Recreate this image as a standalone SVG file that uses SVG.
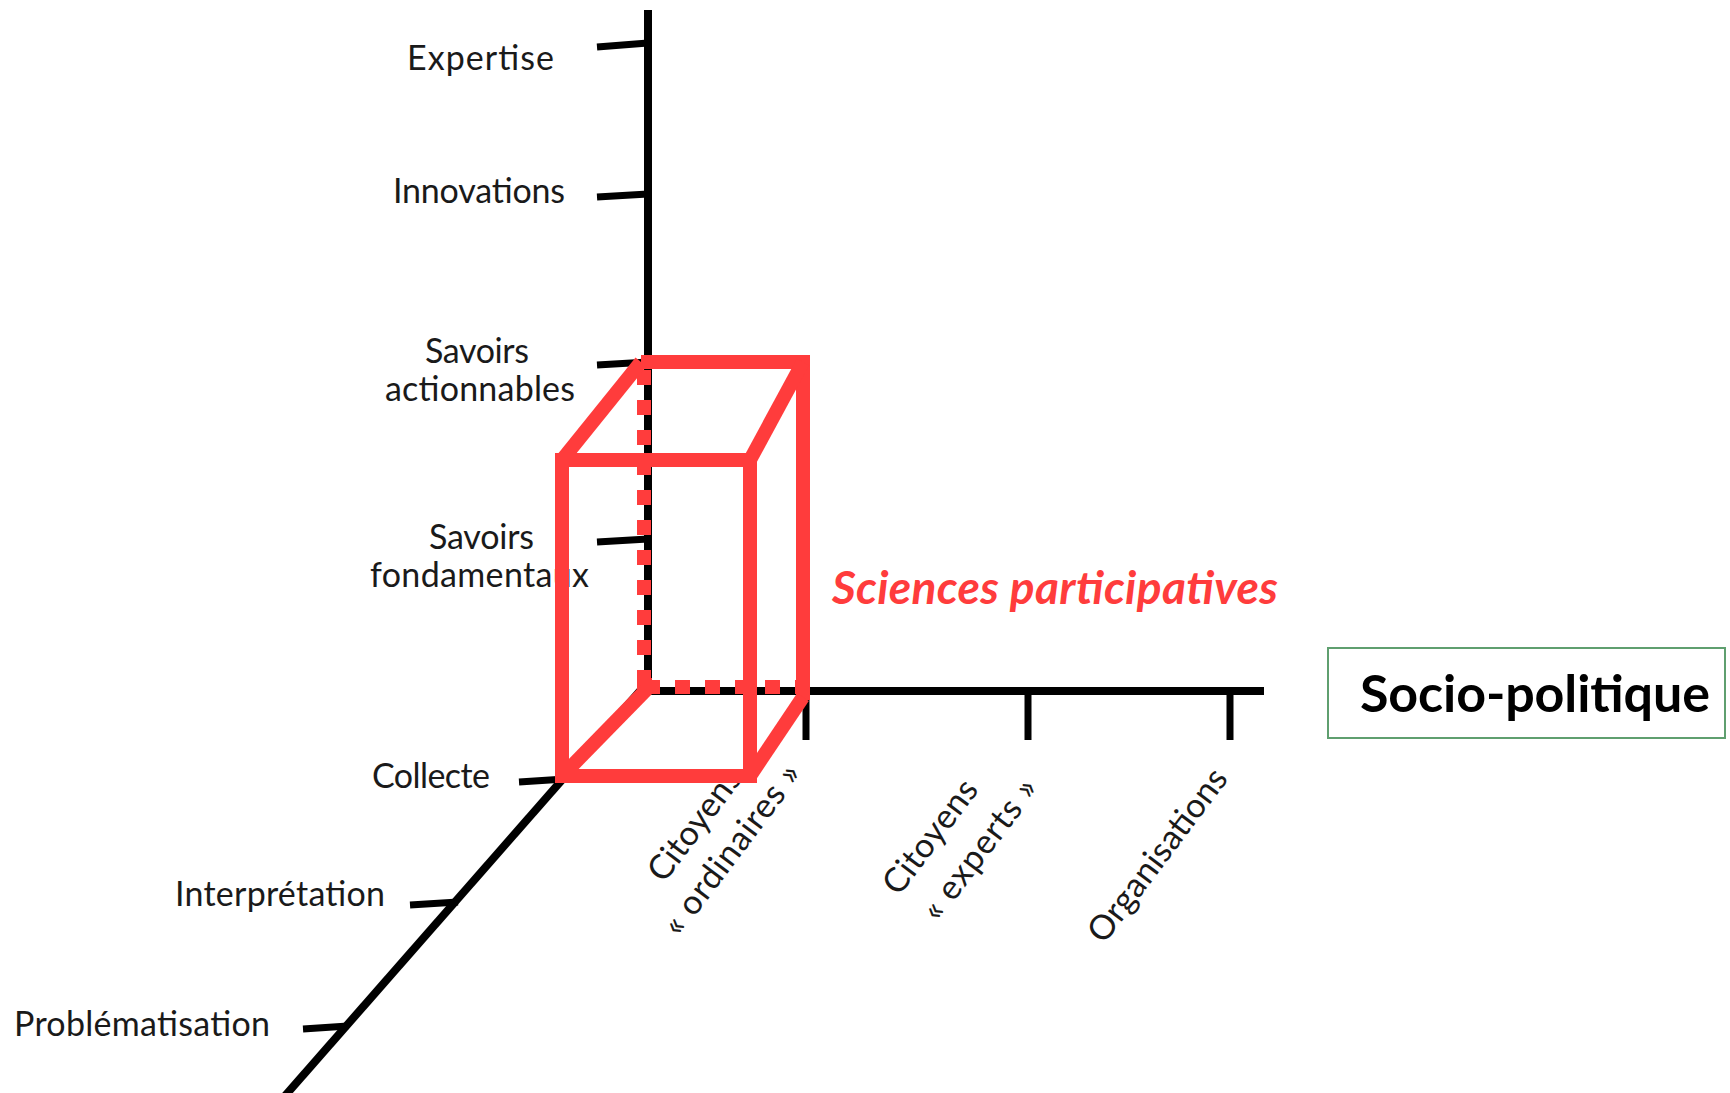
<svg xmlns="http://www.w3.org/2000/svg" width="1730" height="1093" viewBox="0 0 1730 1093">
<style>
.lbl{font-family:Lato,"Open Sans","Liberation Sans",sans-serif;font-size:34px;fill:#1a1a1a}
.axis{stroke:#000;stroke-width:8;fill:none}
.tick{stroke:#000;stroke-width:7;fill:none}
.red{stroke:#ff3c3c;stroke-width:14;fill:none;stroke-linejoin:miter}
.dot{stroke:#ff3c3c;stroke-width:14;fill:none;stroke-dasharray:15 15}
</style>
<rect width="1730" height="1093" fill="#fff"/>
<g id="connectors">
<path class="axis" d="M648 10 V695" stroke-width="9"/>
<path class="axis" d="M644 691 H1264"/>
<path class="axis" d="M640 691 L284 1097"/>
<path class="tick" d="M597 47 L648 43"/>
<path class="tick" d="M597 197 L648 194"/>
<path class="tick" d="M597 365 L648 362"/>
<path class="tick" d="M597 542 L648 539"/>
<path class="tick" d="M519 782 L565 779"/>
<path class="tick" d="M410 905 L458 902"/>
<path class="tick" d="M303 1029 L348 1026"/>
<path class="tick" d="M806 691 V740"/>
<path class="tick" d="M1028 691 V740"/>
<path class="tick" d="M1230 691 V740"/>
</g>
<g id="label-expertise"><text class="lbl" x="407" y="70" font-size="37" textLength="147" lengthAdjust="spacing">Expertise</text></g>
<g id="label-innovations"><text class="lbl" x="393" y="203" textLength="172" lengthAdjust="spacing">Innovations</text></g>
<g id="label-savoirs-actionnables"><text class="lbl" x="425" y="363" textLength="104" lengthAdjust="spacing">Savoirs</text><text class="lbl" x="385" y="401" textLength="190" lengthAdjust="spacing">actionnables</text></g>
<g id="label-savoirs-fondamentaux"><text class="lbl" x="429" y="549" textLength="105" lengthAdjust="spacing">Savoirs</text><text class="lbl" x="370" y="587" textLength="219" lengthAdjust="spacing">fondamentaux</text></g>
<g id="label-collecte"><text class="lbl" x="372" y="788" textLength="118" lengthAdjust="spacing">Collecte</text></g>
<g id="label-interpretation"><text class="lbl" x="175" y="906" textLength="210" lengthAdjust="spacing">Interprétation</text></g>
<g id="label-problematisation"><text class="lbl" x="14" y="1036" textLength="256" lengthAdjust="spacing">Problématisation</text></g>
<g id="label-citoyens-ordinaires"><text class="lbl" transform="translate(664 884) rotate(-53)" textLength="132" lengthAdjust="spacing">Citoyens</text><text class="lbl" transform="translate(679 938) rotate(-53)" textLength="205" lengthAdjust="spacing">« ordinaires »</text></g>
<g id="label-citoyens-experts"><text class="lbl" transform="translate(899 897) rotate(-53)" textLength="134" lengthAdjust="spacing">Citoyens</text><text class="lbl" transform="translate(938 923) rotate(-53)" textLength="168" lengthAdjust="spacing">« experts »</text></g>
<g id="label-organisations"><text class="lbl" transform="translate(1104 945) rotate(-53)" textLength="208" lengthAdjust="spacing">Organisations</text></g>
<g id="box-sciences-participatives">
<path class="dot" d="M644 685 V362"/>
<path class="dot" d="M645 687 H800"/>
<rect x="637" y="678" width="15" height="15" fill="#ff3c3c"/>
<path class="red" d="M641 362 H803 V700"/>
<path class="red" d="M562 460 L641 362"/>
<path class="red" d="M750 460 L803 362"/>
<path class="red" d="M562 776 L647 689"/>
<path class="red" d="M750 776 L803 697"/>
<rect class="red" x="562" y="460" width="188" height="316"/>
</g>
<g id="label-sciences-participatives"><text x="832" y="604" font-family="Lato,'Open Sans','Liberation Sans',sans-serif" font-size="46" font-weight="bold" font-style="italic" fill="#ff3c3c" textLength="446" lengthAdjust="spacing">Sciences participatives</text></g>
<g id="node-socio-politique">
<rect x="1328" y="648" width="397" height="90" fill="#fff" stroke="#5f9f6f" stroke-width="2"/>
<text x="1360" y="712" font-family="Lato,'Open Sans','Liberation Sans',sans-serif" font-size="52" font-weight="bold" fill="#000" textLength="350" lengthAdjust="spacing">Socio-politique</text>
</g>
</svg>
